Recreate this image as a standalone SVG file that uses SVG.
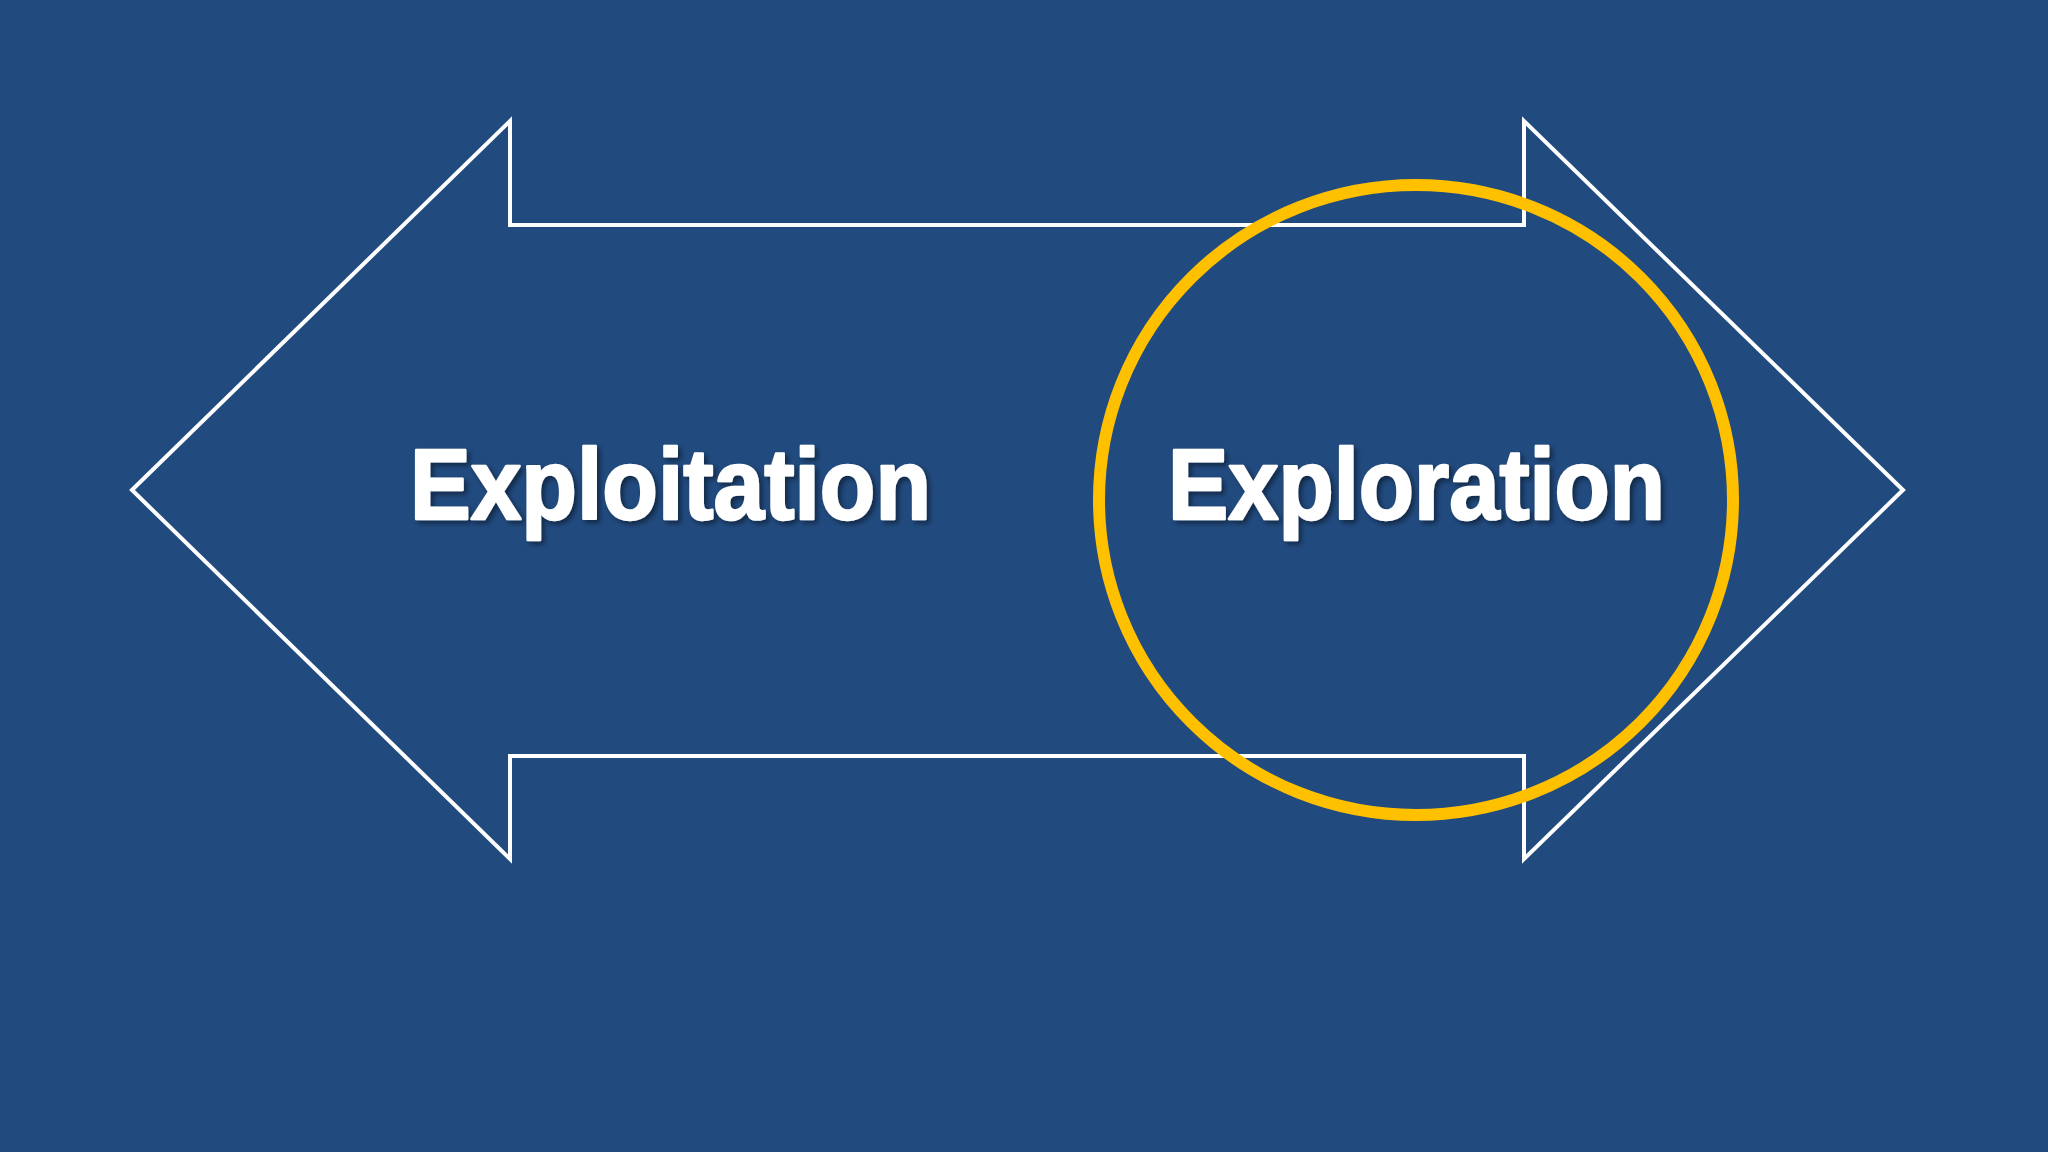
<svg xmlns="http://www.w3.org/2000/svg" width="2048" height="1152" viewBox="0 0 2048 1152">
  <defs>
    <filter id="shadow" x="-10%" y="-20%" width="120%" height="150%">
      <feDropShadow dx="3" dy="3" stdDeviation="2.5" flood-color="#000000" flood-opacity="0.45"/>
    </filter>
  </defs>
  <style>
    .arrow { fill: none; stroke: #ffffff; stroke-width: 4; stroke-linejoin: miter; }
    .ring { fill: none; stroke: #FFC000; stroke-width: 12; }
    .label { font-family: "Liberation Sans", Arial, sans-serif; font-weight: bold; font-size: 100px; fill: #ffffff; stroke: #ffffff; stroke-width: 2.5; stroke-linejoin: round; filter: url(#shadow); }
  </style>
  <rect x="0" y="0" width="2048" height="1152" fill="#214A7E"/>
  <g id="double-arrow">
    <polygon class="arrow" points="132,490 510,121 510,225 1524,225 1524,121 1903,490 1524,859 1524,756 510,756 510,859"/>
  </g>
  <g id="exploitation">
    <text class="label" x="410" y="519" textLength="521" lengthAdjust="spacingAndGlyphs">Exploitation</text>
  </g>
  <g id="exploration">
    <ellipse class="ring" cx="1416" cy="500" rx="317" ry="315"/>
    <text class="label" x="1168" y="519" textLength="497" lengthAdjust="spacingAndGlyphs">Exploration</text>
  </g>
  <g id="connectors"></g>
</svg>
